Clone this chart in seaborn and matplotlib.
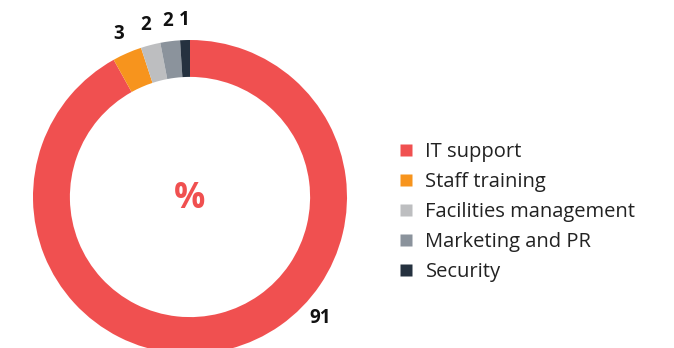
import numpy as np
import matplotlib
matplotlib.use("Agg")
import matplotlib.pyplot as plt
from matplotlib.lines import Line2D
import seaborn as sns

categories = ["IT support", "Staff training", "Facilities management", "Marketing and PR", "Security"]
values = [91, 3, 2, 2, 1]
colors = ["#F05050", "#F7941D", "#BDBEC0", "#8B939C", "#25313F"]

sns.set_theme(style="white")
plt.rcParams["font.family"] = ["Open Sans", "DejaVu Sans"]

fig = plt.figure(figsize=(6.74, 3.48), dpi=100)
R_PX = 157
cx, cy = 190, 348 - 197
ax = fig.add_axes([(cx - R_PX) / 674, (cy - R_PX) / 348, 2 * R_PX / 674, 2 * R_PX / 348])

wedges, _ = ax.pie(values, colors=colors, startangle=90, counterclock=False,
                   radius=1.0, wedgeprops=dict(width=0.235, edgecolor="none"))
ax.set_xlim(-1, 1)
ax.set_ylim(-1, 1)
ax.set_aspect("equal")
ax.axis("off")

# value labels just outside the ring
for i, (w, v) in enumerate(zip(wedges, values)):
    if i == 0:
        ang = np.deg2rad(90 - 133)
    else:
        ang = np.deg2rad((w.theta1 + w.theta2) / 2)
    r = 1.13
    ax.text(r * np.cos(ang), r * np.sin(ang), str(v), ha="center", va="center",
            fontsize=13.5, fontweight="bold", color="#111111", clip_on=False)

ax.text(0, -0.01, "%", ha="center", va="center", fontsize=25, fontweight="bold", color=colors[0])

handles = [Line2D([0], [0], marker="s", linestyle="none", markersize=8,
                  markerfacecolor=c, markeredgecolor="none") for c in colors]
fig.legend(handles, categories, loc="center left", bbox_to_anchor=(0.561, 0.391),
           frameon=False, fontsize=14.5, labelcolor="#222222", handletextpad=0.45,
           labelspacing=0.49, handlelength=1.0)

fig.savefig("out.png", dpi=100)
